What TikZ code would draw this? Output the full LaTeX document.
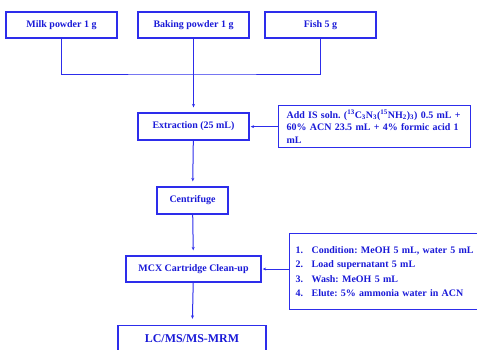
\documentclass[tikz,border=0pt]{standalone}
\usepackage{fontspec}
\setmainfont{Liberation Serif}
\usepackage{tikz}
\usetikzlibrary{arrows.meta, positioning}
\frenchspacing

\begin{document}
\begin{tikzpicture}[x=1bp, y=-1bp, font=\fontsize{10}{12.5}\selectfont\bfseries]
  \definecolor{ink}{RGB}{25,25,215}
  \definecolor{frame}{RGB}{45,45,235}
  \tikzset{
    box/.style={draw=frame, line width=1.3bp, text=ink, inner sep=0pt, align=center},
    note/.style={box, anchor=north west, align=left, inner ysep=3bp},
    flow/.style={draw=frame, line width=1bp},
    tip/.style={-{Stealth[length=3.5bp, width=3bp]}}
  }
  \clip (0,0) rectangle (477,349);
  % --- samples ---
  \node[box, minimum width=111bp, minimum height=26bp] (milk)   at (61.5,25)  {Milk powder 1 g};
  \node[box, minimum width=111bp, minimum height=26bp] (baking) at (193.5,25) {Baking powder 1 g};
  \node[box, minimum width=111bp, minimum height=26bp] (fish)   at (320.5,25) {Fish 5 g};
  % --- main steps ---
  \node[box, minimum width=111bp, minimum height=27bp] (extract) at (193.5,126.5) {Extraction (25 mL)};
  \node[box, minimum width=71bp,  minimum height=27bp] (centri)  at (192.5,200.5) {Centrifuge};
  \node[box, minimum width=135bp, minimum height=26bp] (mcx)     at (193.5,269)   {MCX Cartridge Clean-up};
  \node[box, minimum width=148bp, minimum height=27bp, font=\fontsize{12}{14}\selectfont\bfseries]
    (lcms) at (192,339) {LC/MS/MS-MRM};
  % --- side notes ---
  \node[note, text width=176bp, inner xsep=8bp, minimum height=42bp] (isnote) at (278,105)
    {Add IS soln. (\textsuperscript{13}C\textsubscript{3}N\textsubscript{3}(\textsuperscript{15}NH\textsubscript{2})\textsubscript{3}) 0.5 mL +\\
     60\% ACN 23.5 mL + 4\% formic acid 1\\
     mL};
  \node[note, text width=180bp, inner xsep=6bp, minimum height=76bp,
        font=\fontsize{10}{14.5}\selectfont\bfseries] (condnote) at (289,233)
    {\makebox[16bp][l]{1.}Condition: MeOH 5 mL, water 5 mL\\
     \makebox[16bp][l]{2.}Load supernatant 5 mL\\
     \makebox[16bp][l]{3.}Wash: MeOH 5 mL\\
     \makebox[16bp][l]{4.}Elute: 5\% ammonia water in ACN};
  % --- connectors ---
  \coordinate (join) at (193.5,74);
  \draw[flow] (milk.south) |- (join) -| (fish.south);
  \draw[flow] (baking) -- (join);
  \draw[flow, tip, shorten >=5bp] (join) -- (extract);
  \draw[flow, tip, shorten >=1bp] (isnote.west) -- (extract.east |- isnote.west);
  \draw[flow, tip, shorten >=5bp] (extract) -- (centri);
  \draw[flow, tip, shorten >=5bp] (centri) -- (mcx);
  \draw[flow, tip, shorten >=1bp] (condnote.west |- mcx) -- (mcx.east);
  \draw[flow, tip, shorten >=6bp] (mcx) -- (lcms);
\end{tikzpicture}
\end{document}
